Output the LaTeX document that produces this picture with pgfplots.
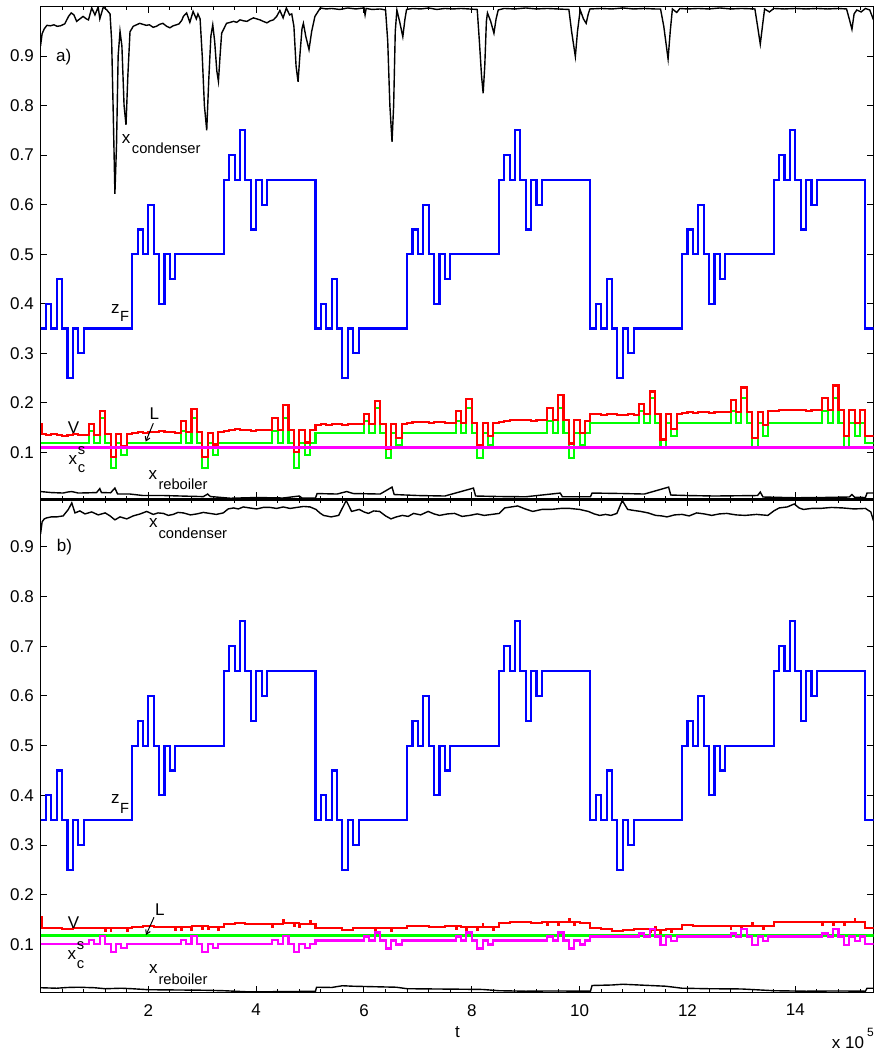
\documentclass[border=0pt]{standalone}
\usepackage{fontspec}
\setmainfont{Liberation Sans}
\usepackage{pgfplots}
\pgfplotsset{compat=1.18}
\usetikzlibrary{arrows.meta}
\newcommand{\fmain}{\fontsize{17}{20}\selectfont}
\newcommand{\fsub}{\fontsize{14.7}{17}\selectfont}
\newcommand{\fsup}{\fontsize{12}{14}\selectfont}
\definecolor{mgreen}{rgb}{0,1,0}
\definecolor{mmag}{rgb}{1,0,1}
\definecolor{mblue}{rgb}{0,0,1}
\definecolor{mred}{rgb}{1,0,0}
\pgfplotsset{panel/.style={
  scale only axis, width=833pt, anchor=south west,
  xmin=0, xmax=15.45,
  xtick={2,4,6,8,10,12,14},
  minor xtick={0.4,0.8,1.2,1.6,2.4,2.8,3.2,3.6,4.4,4.8,5.2,5.6,6.4,6.8,7.2,7.6,8.4,8.8,9.2,9.6,10.4,10.8,11.2,11.6,12.4,12.8,13.2,13.6,14.4,14.8,15.2},
  ytick={0.1,0.2,0.3,0.4,0.5,0.6,0.7,0.8,0.9},
  yticklabels={0.1,0.2,0.3,0.4,0.5,0.6,0.7,0.8,0.9},
  tick align=inside,
  xtick pos=both, ytick pos=both,
  major tick length=6.5pt, minor tick length=3.3pt,
  every tick/.style={black, line width=1pt},
  axis line style={line width=1.3pt},
  yticklabel style={font=\fmain, anchor=east, inner sep=0pt, xshift=-6.5pt},
  xticklabel style={font=\fmain, anchor=north, inner sep=0pt, yshift=-11.3pt},
  every axis plot/.append style={line width=2.1pt},
}}
\begin{document}
\begin{tikzpicture}
% ---------------- top panel a) ----------------
\begin{axis}[panel, at={(40.5pt,553pt)}, height=492.5pt, ymin=0.006, ymax=1.0, xticklabels={}]
% x_condenser
\addplot[black, line width=1.4pt] coordinates {(0,0.920)(0.03,0.945)(0.07,0.955)(0.12,0.962)(0.18,0.961)(0.25,0.963)(0.31,0.960)(0.37,0.961)(0.45,0.965)(0.52,0.980)(0.57,0.987)(0.62,0.983)(0.67,0.970)(0.73,0.975)(0.79,0.980)(0.85,0.975)(0.89,0.973)(0.95,0.997)(1.01,0.983)(1.07,0.999)(1.10,0.975)(1.165,0.999)(1.23,0.993)(1.29,0.985)(1.32,0.930)(1.35,0.780)(1.38,0.622)(1.41,0.720)(1.44,0.900)(1.475,0.950)(1.51,0.920)(1.55,0.800)(1.586,0.761)(1.62,0.860)(1.66,0.949)(1.72,0.960)(1.78,0.963)(1.84,0.966)(1.90,0.964)(1.96,0.962)(2.02,0.963)(2.09,0.958)(2.15,0.960)(2.21,0.964)(2.27,0.966)(2.34,0.960)(2.40,0.957)(2.46,0.961)(2.52,0.963)(2.57,0.965)(2.62,0.972)(2.65,0.980)(2.71,0.987)(2.77,0.968)(2.83,0.990)(2.89,0.975)(2.92,0.985)(2.96,0.975)(3.00,0.900)(3.04,0.800)(3.083,0.750)(3.12,0.850)(3.16,0.940)(3.195,0.963)(3.23,0.930)(3.27,0.870)(3.30,0.849)(3.33,0.900)(3.36,0.946)(3.45,0.966)(3.52,0.968)(3.58,0.970)(3.64,0.968)(3.70,0.973)(3.77,0.971)(3.83,0.970)(3.89,0.974)(3.95,0.977)(4.01,0.975)(4.07,0.973)(4.13,0.970)(4.20,0.967)(4.26,0.971)(4.32,0.973)(4.38,0.980)(4.44,0.992)(4.50,0.977)(4.56,0.997)(4.62,0.983)(4.66,0.985)(4.70,0.960)(4.74,0.880)(4.777,0.848)(4.81,0.900)(4.85,0.955)(4.876,0.966)(4.92,0.940)(4.98,0.913)(5.03,0.950)(5.09,0.980)(5.19,0.997)(5.3,0.995)(5.4,0.996)(5.55,0.994)(5.7,0.997)(5.85,0.995)(6.0,0.997)(6.02,0.983)(6.04,0.996)(6.15,0.994)(6.3,0.995)(6.40,0.993)(6.44,0.930)(6.48,0.800)(6.52,0.727)(6.55,0.800)(6.58,0.950)(6.61,0.993)(6.66,0.970)(6.72,0.939)(6.76,0.975)(6.79,0.994)(6.9,0.996)(7.05,0.995)(7.2,0.997)(7.35,0.994)(7.5,0.996)(7.65,0.995)(7.8,0.996)(7.95,0.995)(8.10,0.994)(8.14,0.930)(8.18,0.860)(8.21,0.825)(8.24,0.880)(8.27,0.970)(8.29,0.987)(8.35,0.970)(8.41,0.946)(8.45,0.975)(8.49,0.993)(8.6,0.996)(8.8,0.995)(9.0,0.997)(9.2,0.995)(9.4,0.996)(9.6,0.995)(9.80,0.994)(9.85,0.950)(9.92,0.899)(9.96,0.950)(10.01,0.993)(10.07,0.975)(10.12,0.966)(10.16,0.985)(10.19,0.995)(10.4,0.996)(10.6,0.995)(10.8,0.997)(11.0,0.995)(11.2,0.996)(11.4,0.995)(11.50,0.995)(11.56,0.960)(11.64,0.894)(11.68,0.950)(11.72,0.995)(11.80,0.988)(11.86,0.996)(12.0,0.995)(12.2,0.996)(12.4,0.995)(12.6,0.997)(12.8,0.995)(13.0,0.996)(13.25,0.995)(13.30,0.960)(13.35,0.924)(13.39,0.960)(13.43,0.995)(13.52,0.989)(13.60,0.996)(13.8,0.995)(14.0,0.996)(14.2,0.995)(14.4,0.996)(14.6,0.995)(14.8,0.996)(14.95,0.995)(15.00,0.975)(15.05,0.954)(15.09,0.985)(15.14,0.993)(15.22,0.989)(15.30,0.996)(15.38,0.993)(15.45,0.973)};
% x_reboiler
\addplot[black, line width=1.4pt] coordinates {(0,0.021)(0.2,0.019)(0.42,0.018)(0.5,0.020)(0.58,0.021)(0.7,0.018)(0.9,0.0185)(1.04,0.019)(1.10,0.027)(1.13,0.019)(1.3,0.0185)(1.38,0.028)(1.43,0.016)(1.66,0.016)(1.9,0.013)(2.28,0.013)(2.6,0.012)(3.02,0.0108)(3.1,0.016)(3.15,0.011)(3.52,0.0075)(4.01,0.009)(4.5,0.008)(4.8,0.012)(4.85,0.008)(5.1,0.008)(5.13,0.017)(5.5,0.016)(5.68,0.021)(5.8,0.017)(6.3,0.016)(6.52,0.030)(6.56,0.015)(7.0,0.013)(7.5,0.012)(8.03,0.028)(8.07,0.012)(8.5,0.011)(9.0,0.0105)(9.64,0.018)(9.68,0.0105)(10.2,0.0105)(10.23,0.018)(10.8,0.017)(11.2,0.016)(11.65,0.030)(11.69,0.014)(12.0,0.013)(12.5,0.012)(13.3,0.013)(13.35,0.020)(13.4,0.010)(14.0,0.0085)(14.5,0.009)(15.0,0.010)(15.05,0.015)(15.1,0.0095)(15.3,0.009)(15.33,0.018)(15.45,0.018)};
% z_F
\addplot[mblue, const plot] coordinates {(0,0.35)(0.1,0.40)(0.2,0.35)(0.3,0.45)(0.4,0.35)(0.5,0.25)(0.6,0.35)(0.7,0.30)(0.8,0.35)(1.7,0.50)(1.8,0.55)(1.9,0.50)(2.0,0.60)(2.1,0.50)(2.2,0.40)(2.3,0.50)(2.4,0.45)(2.5,0.50)(3.4,0.65)(3.5,0.70)(3.6,0.65)(3.7,0.75)(3.8,0.65)(3.9,0.55)(4.0,0.65)(4.1,0.60)(4.2,0.65)(5.1,0.35)(5.2,0.40)(5.3,0.35)(5.4,0.45)(5.5,0.35)(5.6,0.25)(5.7,0.35)(5.8,0.30)(5.9,0.35)(6.8,0.50)(6.9,0.55)(7.0,0.50)(7.1,0.60)(7.2,0.50)(7.3,0.40)(7.4,0.50)(7.5,0.45)(7.6,0.50)(8.5,0.65)(8.6,0.70)(8.7,0.65)(8.8,0.75)(8.9,0.65)(9.0,0.55)(9.1,0.65)(9.2,0.60)(9.3,0.65)(10.2,0.35)(10.3,0.40)(10.4,0.35)(10.5,0.45)(10.6,0.35)(10.7,0.25)(10.8,0.35)(10.9,0.30)(11.0,0.35)(11.9,0.50)(12.0,0.55)(12.1,0.50)(12.2,0.60)(12.3,0.50)(12.4,0.40)(12.5,0.50)(12.6,0.45)(12.7,0.50)(13.6,0.65)(13.7,0.70)(13.8,0.65)(13.9,0.75)(14.0,0.65)(14.1,0.55)(14.2,0.65)(14.3,0.60)(14.4,0.65)(15.3,0.35)(15.45,0.35)};
% L
\addplot[mgreen, const plot] coordinates {(0,0.119)(0.9,0.144)(1.0,0.119)(1.1,0.169)(1.2,0.119)(1.3,0.069)(1.4,0.119)(1.5,0.094)(1.6,0.119)(2.6,0.144)(2.7,0.119)(2.8,0.169)(2.9,0.119)(3.0,0.069)(3.1,0.119)(3.2,0.094)(3.3,0.119)(4.3,0.144)(4.4,0.119)(4.5,0.169)(4.6,0.119)(4.7,0.069)(4.8,0.119)(4.9,0.094)(5.0,0.119)(5.1,0.139)(6.0,0.164)(6.1,0.139)(6.2,0.189)(6.3,0.139)(6.4,0.089)(6.5,0.139)(6.6,0.114)(6.7,0.139)(7.7,0.164)(7.8,0.139)(7.9,0.189)(8.0,0.139)(8.1,0.089)(8.2,0.139)(8.3,0.114)(8.4,0.139)(9.4,0.164)(9.5,0.139)(9.6,0.189)(9.7,0.139)(9.8,0.089)(9.9,0.139)(10.0,0.114)(10.1,0.139)(10.2,0.159)(11.1,0.184)(11.2,0.159)(11.3,0.209)(11.4,0.159)(11.5,0.109)(11.6,0.159)(11.7,0.134)(11.8,0.159)(12.8,0.184)(12.9,0.159)(13.0,0.209)(13.1,0.159)(13.2,0.109)(13.3,0.159)(13.4,0.134)(13.5,0.159)(14.5,0.184)(14.6,0.159)(14.7,0.209)(14.8,0.159)(14.9,0.109)(15.0,0.159)(15.1,0.134)(15.2,0.159)(15.3,0.119)(15.45,0.119)};
% V
\addplot[mred, const plot] coordinates {(0,0.158)(0.02,0.137)(0.1,0.136)(0.2,0.138)(0.3,0.135)(0.4,0.133)(0.5,0.136)(0.6,0.137)(0.7,0.135)(0.8,0.136)(0.9,0.157)(1.0,0.136)(1.1,0.183)(1.2,0.137)(1.3,0.090)(1.4,0.137)(1.5,0.112)(1.6,0.138)(1.7,0.140)(1.8,0.141)(1.9,0.139)(2.0,0.142)(2.1,0.141)(2.2,0.143)(2.3,0.141)(2.4,0.142)(2.5,0.140)(2.6,0.164)(2.7,0.141)(2.8,0.188)(2.9,0.141)(3.0,0.090)(3.1,0.140)(3.2,0.116)(3.3,0.141)(3.4,0.143)(3.5,0.145)(3.6,0.147)(3.7,0.146)(3.8,0.145)(3.9,0.144)(4.0,0.146)(4.1,0.145)(4.2,0.146)(4.3,0.170)(4.4,0.146)(4.5,0.196)(4.6,0.146)(4.7,0.100)(4.8,0.145)(4.9,0.120)(5.0,0.146)(5.1,0.155)(5.2,0.157)(5.3,0.156)(5.4,0.158)(5.5,0.157)(5.6,0.156)(5.7,0.158)(5.8,0.157)(5.9,0.158)(6.0,0.178)(6.1,0.158)(6.2,0.203)(6.3,0.158)(6.4,0.107)(6.5,0.157)(6.6,0.130)(6.7,0.158)(6.8,0.160)(6.9,0.161)(7.0,0.162)(7.1,0.161)(7.2,0.160)(7.3,0.162)(7.4,0.161)(7.5,0.160)(7.6,0.159)(7.7,0.183)(7.8,0.159)(7.9,0.208)(8.0,0.159)(8.1,0.114)(8.2,0.160)(8.3,0.134)(8.4,0.160)(8.5,0.162)(8.6,0.164)(8.7,0.165)(8.8,0.166)(8.9,0.165)(9.0,0.166)(9.1,0.164)(9.2,0.165)(9.3,0.166)(9.4,0.189)(9.5,0.166)(9.6,0.216)(9.7,0.166)(9.8,0.118)(9.9,0.165)(10.0,0.140)(10.1,0.163)(10.2,0.178)(10.3,0.177)(10.4,0.176)(10.5,0.178)(10.6,0.177)(10.7,0.175)(10.8,0.176)(10.9,0.177)(11.0,0.176)(11.1,0.198)(11.2,0.177)(11.3,0.223)(11.4,0.178)(11.5,0.126)(11.6,0.178)(11.7,0.147)(11.8,0.178)(11.9,0.180)(12.0,0.181)(12.1,0.180)(12.2,0.182)(12.3,0.181)(12.4,0.180)(12.5,0.182)(12.6,0.181)(12.7,0.182)(12.8,0.205)(12.9,0.182)(13.0,0.231)(13.1,0.182)(13.2,0.130)(13.3,0.182)(13.4,0.155)(13.5,0.183)(13.6,0.184)(13.7,0.185)(13.8,0.186)(13.9,0.185)(14.0,0.186)(14.1,0.185)(14.2,0.184)(14.3,0.186)(14.4,0.185)(14.5,0.210)(14.6,0.186)(14.7,0.235)(14.8,0.186)(14.9,0.134)(15.0,0.185)(15.1,0.160)(15.2,0.185)(15.3,0.134)(15.45,0.134)};
% x_c^s
\addplot[mmag] coordinates {(0,0.110)(15.45,0.110)};
\end{axis}
% ---------------- bottom panel b) ----------------
\begin{axis}[panel, at={(40.5pt,59.3pt)}, height=492.7pt, ymin=0.003, ymax=0.994, xticklabels={2,4,6,8,10,12,14}]
% x_condenser
\addplot[black, line width=1.4pt] coordinates {(0,0.925)(0.03,0.950)(0.07,0.956)(0.114,0.958)(0.2,0.960)(0.30,0.960)(0.42,0.962)(0.516,0.975)(0.58,0.988)(0.64,0.968)(0.73,0.972)(0.825,0.966)(0.95,0.970)(1.07,0.964)(1.20,0.968)(1.29,0.962)(1.38,0.954)(1.475,0.960)(1.60,0.956)(1.72,0.962)(1.85,0.966)(1.97,0.971)(2.09,0.965)(2.18,0.968)(2.28,0.967)(2.37,0.963)(2.46,0.965)(2.55,0.969)(2.65,0.968)(2.78,0.964)(2.90,0.966)(3.02,0.969)(3.14,0.967)(3.26,0.965)(3.39,0.968)(3.48,0.976)(3.58,0.978)(3.67,0.976)(3.76,0.980)(3.88,0.978)(4.01,0.976)(4.13,0.979)(4.26,0.979)(4.38,0.977)(4.50,0.980)(4.63,0.977)(4.75,0.979)(4.88,0.981)(5.00,0.980)(5.11,0.975)(5.18,0.968)(5.25,0.963)(5.39,0.960)(5.53,0.963)(5.67,0.993)(5.77,0.971)(5.91,0.975)(6.0,0.970)(6.08,0.967)(6.18,0.972)(6.29,0.971)(6.40,0.962)(6.50,0.956)(6.60,0.960)(6.71,0.963)(6.82,0.961)(6.92,0.967)(7.05,0.964)(7.19,0.971)(7.30,0.966)(7.40,0.963)(7.55,0.966)(7.68,0.967)(7.82,0.961)(7.96,0.963)(8.10,0.966)(8.23,0.963)(8.37,0.965)(8.51,0.967)(8.61,0.978)(8.73,0.980)(8.85,0.982)(8.99,0.976)(9.13,0.971)(9.30,0.975)(9.47,0.975)(9.65,0.977)(9.82,0.977)(10.0,0.975)(10.16,0.971)(10.27,0.966)(10.37,0.963)(10.48,0.965)(10.58,0.963)(10.69,0.967)(10.79,0.993)(10.89,0.975)(11.0,0.973)(11.13,0.971)(11.27,0.968)(11.41,0.963)(11.52,0.962)(11.62,0.960)(11.76,0.964)(11.90,0.965)(12.03,0.962)(12.17,0.968)(12.31,0.966)(12.45,0.963)(12.59,0.966)(12.73,0.967)(12.90,0.964)(13.07,0.963)(13.28,0.965)(13.49,0.963)(13.60,0.972)(13.70,0.978)(13.85,0.980)(13.98,0.986)(14.07,0.978)(14.15,0.975)(14.30,0.977)(14.46,0.977)(14.67,0.979)(14.88,0.978)(15.09,0.976)(15.30,0.977)(15.40,0.970)(15.45,0.952)};
% x_reboiler
\addplot[black, line width=1.4pt] coordinates {(0,0.013)(0.3,0.012)(0.5,0.0135)(0.7,0.014)(1.0,0.013)(1.2,0.011)(1.5,0.012)(1.7,0.011)(2.0,0.009)(2.5,0.0085)(3.0,0.008)(3.4,0.007)(3.8,0.005)(4.3,0.005)(4.8,0.0055)(5.1,0.006)(5.12,0.014)(5.4,0.0135)(5.6,0.017)(5.8,0.016)(6.2,0.015)(6.6,0.014)(6.8,0.011)(7.3,0.0105)(7.8,0.010)(8.2,0.0095)(8.5,0.007)(9.0,0.006)(9.5,0.0065)(10.2,0.006)(10.23,0.0175)(10.6,0.0185)(10.8,0.020)(11.2,0.018)(11.6,0.016)(11.9,0.012)(12.4,0.011)(13.0,0.0105)(13.6,0.007)(14.2,0.006)(14.8,0.0065)(15.3,0.006)(15.33,0.012)(15.45,0.012)};
% z_F
\addplot[mblue, const plot] coordinates {(0,0.35)(0.1,0.40)(0.2,0.35)(0.3,0.45)(0.4,0.35)(0.5,0.25)(0.6,0.35)(0.7,0.30)(0.8,0.35)(1.7,0.50)(1.8,0.55)(1.9,0.50)(2.0,0.60)(2.1,0.50)(2.2,0.40)(2.3,0.50)(2.4,0.45)(2.5,0.50)(3.4,0.65)(3.5,0.70)(3.6,0.65)(3.7,0.75)(3.8,0.65)(3.9,0.55)(4.0,0.65)(4.1,0.60)(4.2,0.65)(5.1,0.35)(5.2,0.40)(5.3,0.35)(5.4,0.45)(5.5,0.35)(5.6,0.25)(5.7,0.35)(5.8,0.30)(5.9,0.35)(6.8,0.50)(6.9,0.55)(7.0,0.50)(7.1,0.60)(7.2,0.50)(7.3,0.40)(7.4,0.50)(7.5,0.45)(7.6,0.50)(8.5,0.65)(8.6,0.70)(8.7,0.65)(8.8,0.75)(8.9,0.65)(9.0,0.55)(9.1,0.65)(9.2,0.60)(9.3,0.65)(10.2,0.35)(10.3,0.40)(10.4,0.35)(10.5,0.45)(10.6,0.35)(10.7,0.25)(10.8,0.35)(10.9,0.30)(11.0,0.35)(11.9,0.50)(12.0,0.55)(12.1,0.50)(12.2,0.60)(12.3,0.50)(12.4,0.40)(12.5,0.50)(12.6,0.45)(12.7,0.50)(13.6,0.65)(13.7,0.70)(13.8,0.65)(13.9,0.75)(14.0,0.65)(14.1,0.55)(14.2,0.65)(14.3,0.60)(14.4,0.65)(15.3,0.35)(15.45,0.35)};
% L
\addplot[mgreen] coordinates {(0,0.118)(15.45,0.118)};
% V
\addplot[mred, const plot] coordinates {(0,0.156)(0.02,0.134)(0.3,0.133)(0.4,0.131)(0.6,0.133)(0.9,0.134)(1.2,0.127)(1.215,0.133)(1.3,0.127)(1.315,0.133)(1.5,0.134)(1.6,0.127)(1.615,0.134)(1.7,0.136)(1.9,0.137)(2.1,0.136)(2.4,0.135)(2.5,0.129)(2.515,0.136)(2.6,0.130)(2.615,0.136)(2.8,0.130)(2.815,0.137)(3.0,0.131)(3.015,0.137)(3.1,0.131)(3.115,0.136)(3.3,0.130)(3.315,0.136)(3.4,0.142)(3.6,0.144)(3.8,0.142)(4.1,0.141)(4.3,0.136)(4.315,0.142)(4.5,0.149)(4.515,0.143)(4.6,0.143)(4.7,0.137)(4.715,0.143)(4.8,0.136)(4.815,0.142)(4.9,0.142)(5.0,0.148)(5.015,0.142)(5.1,0.133)(5.3,0.134)(5.6,0.130)(5.8,0.133)(6.1,0.134)(6.2,0.128)(6.215,0.134)(6.4,0.133)(6.5,0.127)(6.515,0.133)(6.8,0.137)(7.0,0.138)(7.2,0.136)(7.5,0.137)(7.7,0.131)(7.715,0.137)(7.8,0.136)(7.9,0.130)(7.915,0.136)(8.1,0.130)(8.115,0.136)(8.2,0.142)(8.215,0.136)(8.4,0.130)(8.415,0.136)(8.5,0.143)(8.7,0.145)(8.9,0.146)(9.1,0.144)(9.3,0.145)(9.4,0.139)(9.415,0.145)(9.5,0.146)(9.6,0.140)(9.615,0.146)(9.8,0.151)(9.815,0.145)(9.9,0.139)(9.915,0.145)(10.0,0.144)(10.2,0.133)(10.4,0.131)(10.6,0.128)(10.8,0.130)(11.0,0.131)(11.3,0.125)(11.315,0.130)(11.4,0.136)(11.415,0.130)(11.5,0.124)(11.515,0.130)(11.6,0.131)(11.7,0.125)(11.715,0.131)(11.9,0.139)(12.1,0.138)(12.4,0.137)(12.7,0.138)(12.8,0.132)(12.815,0.138)(13.0,0.131)(13.015,0.137)(13.2,0.144)(13.215,0.138)(13.3,0.137)(13.4,0.131)(13.415,0.137)(13.6,0.146)(13.8,0.145)(14.0,0.146)(14.2,0.145)(14.5,0.140)(14.515,0.146)(14.7,0.139)(14.715,0.145)(14.8,0.146)(14.9,0.140)(14.915,0.146)(15.1,0.151)(15.115,0.145)(15.3,0.133)(15.45,0.133)};
% x_c^s
\addplot[mmag, const plot] coordinates {(0,0.101)(0.9,0.109)(1.0,0.101)(1.1,0.117)(1.2,0.101)(1.3,0.085)(1.4,0.101)(1.5,0.093)(1.6,0.101)(2.6,0.109)(2.7,0.101)(2.8,0.117)(2.9,0.101)(3.0,0.085)(3.1,0.101)(3.2,0.093)(3.3,0.101)(4.3,0.109)(4.4,0.101)(4.5,0.117)(4.6,0.101)(4.7,0.085)(4.8,0.101)(4.9,0.093)(5.0,0.101)(5.1,0.108)(6.0,0.116)(6.1,0.108)(6.2,0.124)(6.3,0.108)(6.4,0.092)(6.5,0.108)(6.6,0.100)(6.7,0.108)(7.7,0.116)(7.8,0.108)(7.9,0.124)(8.0,0.108)(8.1,0.092)(8.2,0.108)(8.3,0.100)(8.4,0.108)(9.4,0.116)(9.5,0.108)(9.6,0.124)(9.7,0.108)(9.8,0.092)(9.9,0.108)(10.0,0.100)(10.1,0.108)(10.2,0.116)(11.1,0.122)(11.2,0.116)(11.3,0.131)(11.4,0.116)(11.5,0.099)(11.6,0.116)(11.7,0.107)(11.8,0.116)(12.8,0.122)(12.9,0.116)(13.0,0.131)(13.1,0.116)(13.2,0.099)(13.3,0.116)(13.4,0.107)(13.5,0.116)(14.5,0.122)(14.6,0.116)(14.7,0.131)(14.8,0.116)(14.9,0.099)(15.0,0.116)(15.1,0.107)(15.2,0.116)(15.3,0.101)(15.45,0.101)};
\end{axis}
% ---------------- annotations ----------------
\tikzset{lab/.style={anchor=base west, inner sep=0pt}}
% top
\node[lab, font=\fmain] at (56pt,990.5pt) {a)};
\node[lab, font=\fmain] at (121.7pt,908pt) {x};
\node[lab, font=\fsub] at (131.7pt,898pt) {condenser};
\node[lab, font=\fmain] at (111pt,738.7pt) {z};
\node[lab, font=\fsub] at (120pt,730.3pt) {F};
\node[lab, font=\fmain] at (67.7pt,618.7pt) {V};
\node[lab, font=\fmain] at (149.3pt,632.7pt) {L};
\draw[line width=1pt, -{Straight Barb[length=4pt,width=5pt]}] (153.3pt,628.7pt) -- (145.7pt,610.3pt);
\node[lab, font=\fmain] at (68.3pt,587pt) {x};
\node[lab, font=\fsub] at (77.7pt,597pt) {s};
\node[lab, font=\fsub] at (77.7pt,579pt) {c};
\node[lab, font=\fmain] at (148.3pt,572pt) {x};
\node[lab, font=\fsub] at (158.3pt,562.5pt) {reboiler};
% bottom
\node[lab, font=\fmain] at (56.7pt,500.5pt) {b)};
\node[lab, font=\fmain] at (149pt,524.7pt) {x};
\node[lab, font=\fsub] at (158.3pt,513pt) {condenser};
\node[lab, font=\fmain] at (111pt,248pt) {z};
\node[lab, font=\fsub] at (120pt,238.7pt) {F};
\node[lab, font=\fmain] at (67.7pt,123.7pt) {V};
\node[lab, font=\fmain] at (155pt,136pt) {L};
\draw[line width=1pt, -{Straight Barb[length=4pt,width=5pt]}] (154pt,134.7pt) -- (146pt,117pt);
\node[lab, font=\fmain] at (67.3pt,92.7pt) {x};
\node[lab, font=\fsub] at (76.7pt,102pt) {s};
\node[lab, font=\fsub] at (76.7pt,83.7pt) {c};
\node[lab, font=\fmain] at (149pt,78pt) {x};
\node[lab, font=\fsub] at (158.3pt,67pt) {reboiler};
% axis label and multiplier
\node[anchor=base, inner sep=0pt, font=\fmain] at (457.5pt,14pt) {t};
\node[lab, font=\fmain] at (831.7pt,4pt) {x 10};
\node[lab, font=\fsup] at (867pt,15pt) {5};
\pgfresetboundingbox
\path[use as bounding box] (0pt,0pt) rectangle (875pt,1052pt);
\end{tikzpicture}
\end{document}
